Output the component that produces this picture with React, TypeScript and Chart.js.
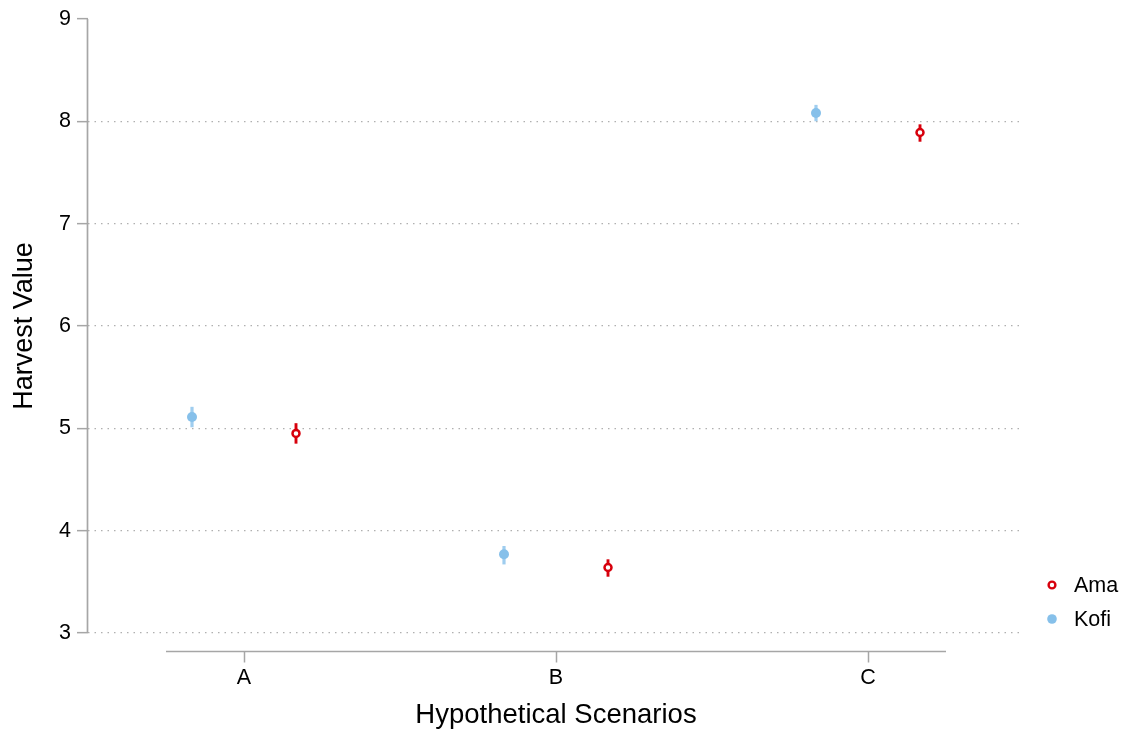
import { useEffect, useRef } from 'react';
import { Chart, registerables } from 'chart.js';

Chart.register(...registerables);

const categories = ['A', 'B', 'C'];
const seriesNames = ['Ama', 'Kofi'];
const amaValues = [4.95, 3.64, 7.89];
const amaLower = [4.85, 3.55, 7.8];
const amaUpper = [5.05, 3.72, 7.97];
const kofiValues = [5.11, 3.77, 8.08];
const kofiLower = [5.01, 3.67, 8.0];
const kofiUpper = [5.21, 3.85, 8.16];
const yTicks = [3, 4, 5, 6, 7, 8, 9];
const xTitle = 'Hypothetical Scenarios';
const yTitle = 'Harvest Value';

const AMA_COLOR = '#d7000c';
const KOFI_COLOR = '#86c0ea';
const KOFI_BAR = '#9fcdef';
const AXIS_COLOR = '#a6a6a6';
const FONT = "'Liberation Sans', Arial, Helvetica, sans-serif";

const errorBarPlugin = {
  id: 'errorBars',
  beforeDatasetsDraw(chart: any) {
    const { ctx } = chart;
    const xs = chart.scales.x;
    const ys = chart.scales.y;
    chart.data.datasets.forEach((ds: any) => {
      ctx.save();
      ctx.strokeStyle = ds.barColor;
      ctx.lineWidth = ds.barWidth;
      ds.data.forEach((d: any) => {
        const x = xs.getPixelForValue(d.x);
        ctx.beginPath();
        ctx.moveTo(x, ys.getPixelForValue(d.lo));
        ctx.lineTo(x, ys.getPixelForValue(d.hi));
        ctx.stroke();
      });
      ctx.restore();
    });
  },
};

const axesPlugin = {
  id: 'customAxes',
  afterDraw(chart: any) {
    const { ctx, chartArea } = chart;
    const xs = chart.scales.x;
    const ys = chart.scales.y;
    ctx.save();
    ctx.strokeStyle = AXIS_COLOR;
    ctx.lineWidth = 1.7;
    const yl = chartArea.left - 0.5;
    ctx.beginPath();
    ctx.moveTo(yl, ys.getPixelForValue(yTicks[yTicks.length - 1]));
    ctx.lineTo(yl, ys.getPixelForValue(yTicks[0]));
    ctx.stroke();
    const xy = chartArea.bottom + 18.5;
    ctx.beginPath();
    ctx.moveTo(xs.getPixelForValue(0.75), xy);
    ctx.lineTo(xs.getPixelForValue(categories.length + 0.25), xy);
    ctx.stroke();
    ctx.lineWidth = 1.5;
    categories.forEach((_, i) => {
      const x = Math.round(xs.getPixelForValue(i + 1)) + 0.5;
      ctx.beginPath();
      ctx.moveTo(x, xy);
      ctx.lineTo(x, xy + 11);
      ctx.stroke();
    });
    ctx.restore();
  },
};

const legendPlugin = {
  id: 'customLegend',
  afterDraw(chart: any) {
    const { ctx, chartArea } = chart;
    ctx.save();
    ctx.font = `21.5px ${FONT}`;
    ctx.textBaseline = 'middle';
    ctx.textAlign = 'left';
    const mx = chartArea.right + 28;
    const tx = chartArea.right + 50;
    const rows = [chartArea.bottom - 48, chartArea.bottom - 14];
    ctx.beginPath();
    ctx.arc(mx, rows[0], 3.4, 0, Math.PI * 2);
    ctx.fillStyle = '#fff';
    ctx.fill();
    ctx.strokeStyle = AMA_COLOR;
    ctx.lineWidth = 2.4;
    ctx.stroke();
    ctx.beginPath();
    ctx.arc(mx, rows[1], 4.8, 0, Math.PI * 2);
    ctx.fillStyle = KOFI_COLOR;
    ctx.fill();
    ctx.fillStyle = '#000';
    ctx.fillText(seriesNames[0], tx, rows[0] + 1);
    ctx.fillText(seriesNames[1], tx, rows[1] + 1);
    ctx.restore();
  },
};

export default function App() {
  const canvasRef = useRef<HTMLCanvasElement | null>(null);

  useEffect(() => {
    document.body.style.margin = '0';
    const canvas = canvasRef.current;
    if (!canvas) return;
    Chart.defaults.font.family = FONT;
    Chart.defaults.color = '#000';

    const amaData = categories.map((_, i) => ({
      x: i + 1 + 1 / 6,
      y: amaValues[i],
      lo: amaLower[i],
      hi: amaUpper[i],
    }));
    const kofiData = categories.map((_, i) => ({
      x: i + 1 - 1 / 6,
      y: kofiValues[i],
      lo: kofiLower[i],
      hi: kofiUpper[i],
    }));

    const chart = new Chart(canvas, {
      type: 'scatter',
      data: {
        datasets: [
          {
            label: seriesNames[1],
            data: kofiData,
            pointRadius: 5,
            pointBackgroundColor: KOFI_COLOR,
            pointBorderColor: KOFI_COLOR,
            pointBorderWidth: 0,
            barColor: KOFI_BAR,
            barWidth: 3.2,
          } as any,
          {
            label: seriesNames[0],
            data: amaData,
            pointRadius: 3.5,
            pointBackgroundColor: '#ffffff',
            pointBorderColor: AMA_COLOR,
            pointBorderWidth: 2.5,
            barColor: AMA_COLOR,
            barWidth: 2.9,
          } as any,
        ],
      },
      options: {
        animation: false,
        responsive: false,
        events: [],
        layout: { padding: { top: 17, right: 105, left: 0, bottom: 0 } },
        plugins: {
          legend: { display: false },
          tooltip: { enabled: false },
        },
        scales: {
          x: {
            type: 'linear',
            min: 0.5,
            max: categories.length + 0.5,
            afterBuildTicks: (s: any) => {
              s.ticks = categories.map((_, i) => ({ value: i + 1 }));
            },
            afterFit: (s: any) => {
              s.height = 103;
            },
            ticks: {
              callback: (_v: any, i: number) => categories[i] ?? '',
              padding: 32,
              font: { size: 21.5 },
              color: '#000',
              maxRotation: 0,
              autoSkip: false,
            },
            grid: { display: false, drawTicks: false },
            border: { display: false },
            title: {
              display: true,
              text: xTitle,
              font: { size: 27.5 },
              color: '#000',
              padding: { top: 0, bottom: 4 },
            },
          },
          y: {
            min: yTicks[0],
            max: yTicks[yTicks.length - 1],
            afterBuildTicks: (s: any) => {
              s.ticks = yTicks.map((v) => ({ value: v }));
            },
            afterFit: (s: any) => {
              s.width = 88;
            },
            ticks: {
              padding: 6,
              font: { size: 21.5 },
              color: '#000',
            },
            grid: {
              color: (c: any) =>
                c.tick && c.tick.value === yTicks[yTicks.length - 1] ? 'rgba(0,0,0,0)' : '#b0b0b0',
              lineWidth: 1.3,
              drawTicks: true,
              tickLength: 11,
              tickColor: AXIS_COLOR,
              tickWidth: 1.5,
              tickBorderDash: [],
            },
            border: { display: false, dash: [1.5, 5] },
            title: {
              display: true,
              text: yTitle,
              font: { size: 27 },
              color: '#000',
              padding: { top: 8, bottom: 0 },
            },
          },
        },
      } as any,
      plugins: [errorBarPlugin, axesPlugin, legendPlugin],
    });

    return () => chart.destroy();
  }, []);

  return (
    <div style={{ width: 1129, height: 736 }}>
      <canvas ref={canvasRef} width={1129} height={736} />
    </div>
  );
}
